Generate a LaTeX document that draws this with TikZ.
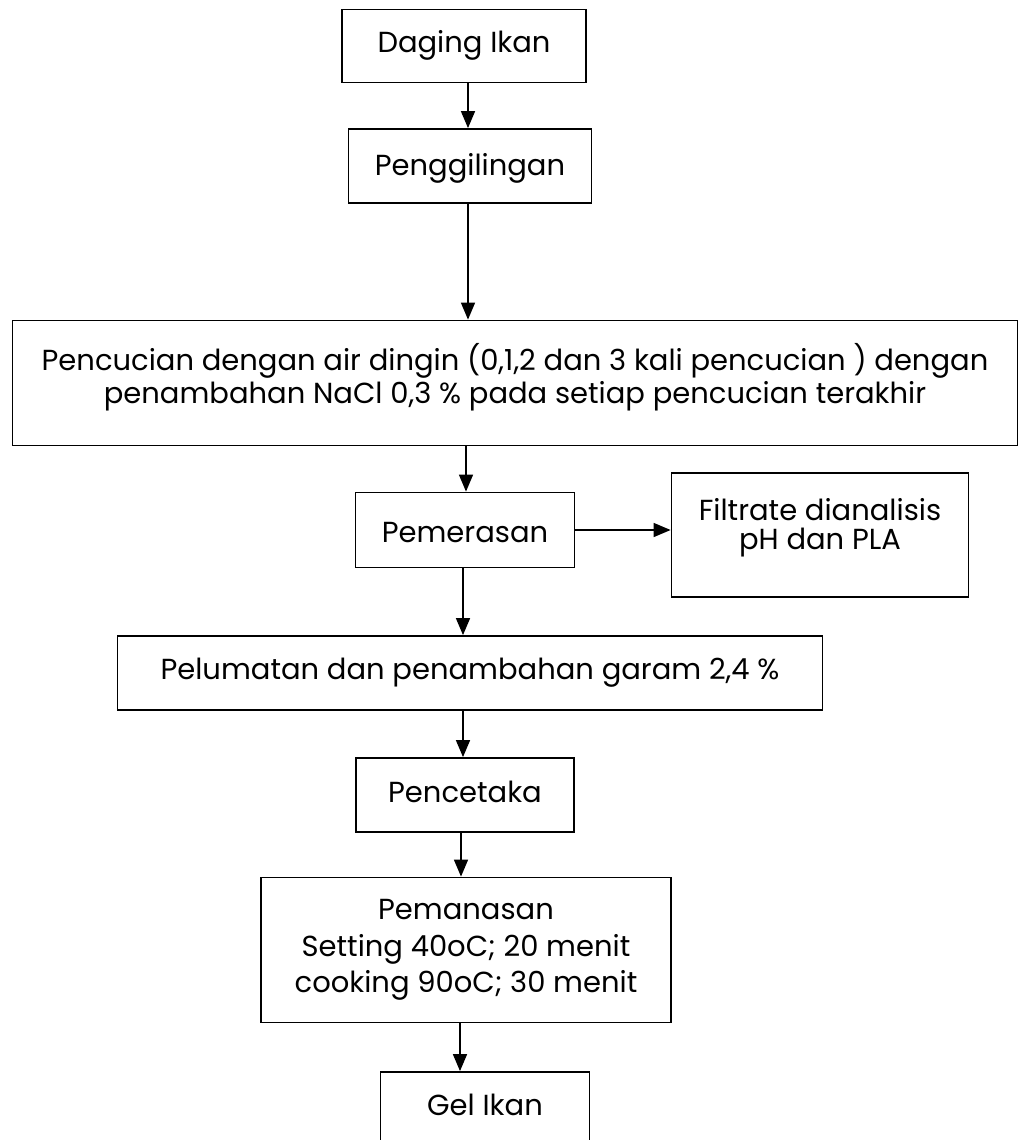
\documentclass[tikz,border=0pt]{standalone}
\usepackage{fontspec}
\setmainfont{Poppins}
\usetikzlibrary{arrows.meta}
\begin{document}
\begin{tikzpicture}[x=1pt,y=-1pt,
  box/.style={draw, line width=1.8pt, inner sep=0pt, rectangle},
  txt/.style={inner sep=0pt, align=center, font=\fontsize{29}{33}\selectfont},
  arr/.style={line width=1.5pt, -{Triangle[length=17pt,width=14pt]}}]
\useasboundingbox (0,0) rectangle (1023,1140);
\fill[white] (0,0) rectangle (1023,1140);
\clip (0,0) rectangle (1023,1140);
% boxes
\node[box, minimum width=244pt, minimum height=73pt] (dag) at (464,46) {};
\node[txt] (tdag) at (464,45) {Daging Ikan};
\node[box, minimum width=243pt, minimum height=74pt] (peng) at (470,166) {};
\node[txt] (tpeng) at (470,168) {Penggilingan};
\node[box, minimum width=1005pt, minimum height=125pt] (cuc) at (515,383) {};
\node[txt] (tcuc) at (515,377) {Pencucian dengan air dingin (0,1,2 dan 3 kali pencucian ) dengan\\penambahan NaCl 0,3 \% pada setiap pencucian terakhir};
\node[box, minimum width=219pt, minimum height=75pt] (pem) at (465,530) {};
\node[txt] (tpem) at (465,533) {Pemerasan};
\node[box, minimum width=297pt, minimum height=124pt] (fil) at (820,535) {};
\node[txt, font=\fontsize{29}{29}\selectfont] (tfil) at (820,528) {Filtrate dianalisis\\pH dan PLA};
\node[box, minimum width=705pt, minimum height=74pt] (pel) at (470,673) {};
\node[txt] (tpel) at (470,673) {Pelumatan dan penambahan garam 2,4 \%};
\node[box, minimum width=218pt, minimum height=74pt] (cet) at (465,795) {};
\node[txt] (tcet) at (465,792) {Pencetaka};
\node[box, minimum width=410pt, minimum height=145pt] (pan) at (466,950) {};
\node[txt, font=\fontsize{29}{36.5}\selectfont] (tpan) at (466,950) {Pemanasan\\Setting 40oC; 20 menit\\cooking 90oC; 30 menit};
\node[box, minimum width=209pt, minimum height=80pt] (gel) at (485,1112) {};
\node[txt] (tgel) at (485,1105) {Gel Ikan};
% arrow lines
\coordinate (a1) at (468,0);
\coordinate (a2) at (468,0);
\coordinate (a3) at (466,0);
\coordinate (a4) at (463,0);
\coordinate (a5) at (463,0);
\coordinate (a6) at (461,0);
\coordinate (a7) at (460,0);
\draw[arr] (dag.south -| a1) -- (peng.north -| a1);
\draw[arr] (peng.south -| a2) -- (cuc.north -| a2);
\draw[arr] (cuc.south -| a3) -- (pem.north -| a3);
\draw[arr] (pem.east) -- (fil.west |- pem.east);
\draw[arr] (pem.south -| a4) -- (pel.north -| a4);
\draw[arr] (pel.south -| a5) -- (cet.north -| a5);
\draw[arr] (cet.south -| a6) -- (pan.north -| a6);
\draw[arr] (pan.south -| a7) -- (gel.north -| a7);
\end{tikzpicture}
\end{document}
